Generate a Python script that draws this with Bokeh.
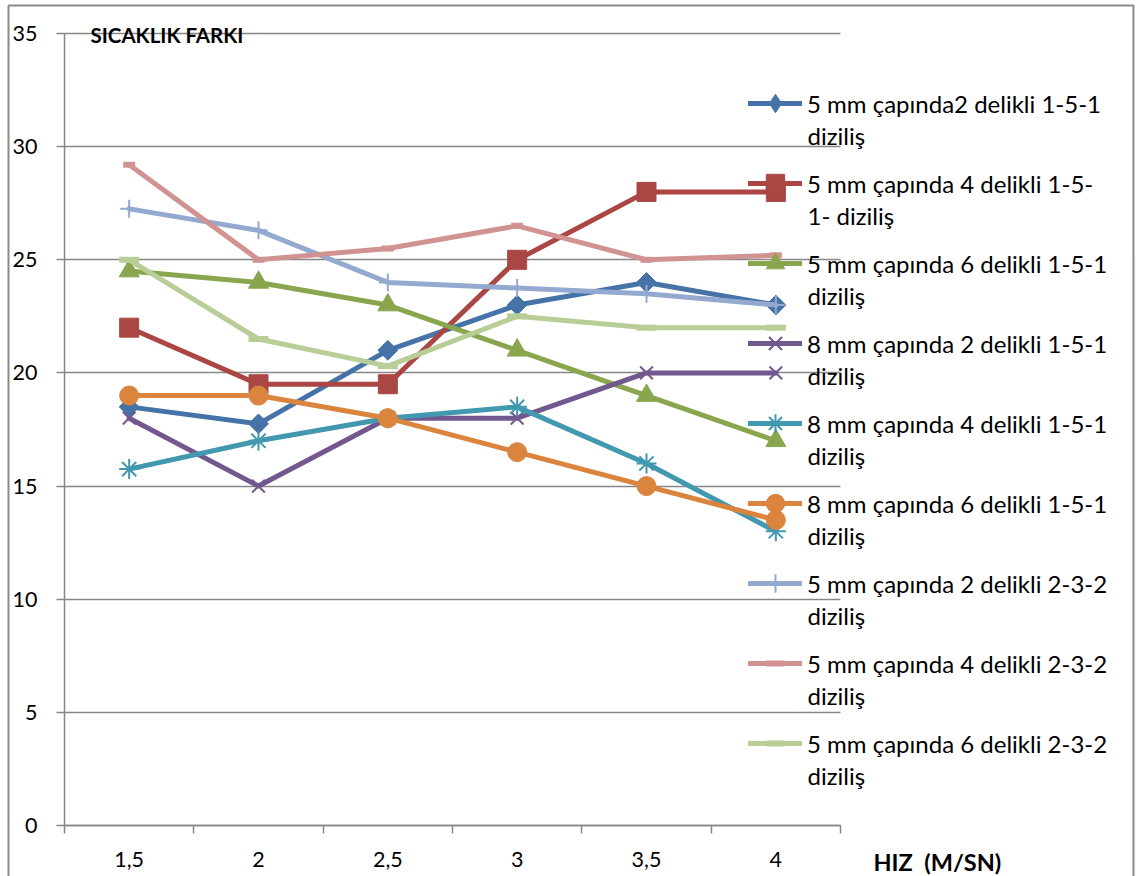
from bokeh.plotting import figure
from bokeh.models import Range1d, FixedTicker, Legend, LegendItem, Label, BoxAnnotation
from bokeh.embed import file_html
from bokeh.resources import INLINE

# ---- data -------------------------------------------------------------
speeds = ["1,5", "2", "2,5", "3", "3,5", "4"]          # HIZ (M/SN)
y_ticks = [0, 5, 10, 15, 20, 25, 30, 35]

s_5mm_2h_151 = [18.5, 17.75, 21.0, 23.0, 24.0, 23.0]
s_5mm_4h_151 = [22.0, 19.5, 19.5, 25.0, 28.0, 28.0]
s_5mm_6h_151 = [24.5, 24.0, 23.0, 21.0, 19.0, 17.0]
s_8mm_2h_151 = [18.0, 15.0, 18.0, 18.0, 20.0, 20.0]
s_8mm_4h_151 = [15.75, 17.0, 18.0, 18.5, 16.0, 13.0]
s_8mm_6h_151 = [19.0, 19.0, 18.0, 16.5, 15.0, 13.5]
s_5mm_2h_232 = [27.25, 26.3, 24.0, 23.75, 23.5, 23.0]
s_5mm_4h_232 = [29.2, 25.0, 25.5, 26.5, 25.0, 25.2]
s_5mm_6h_232 = [25.0, 21.5, 20.3, 22.5, 22.0, 22.0]

series = [s_5mm_2h_151, s_5mm_4h_151, s_5mm_6h_151,
          s_8mm_2h_151, s_8mm_4h_151, s_8mm_6h_151,
          s_5mm_2h_232, s_5mm_4h_232, s_5mm_6h_232]

legend_lines = [
    ("5 mm çapında2 delikli 1-5-1", "diziliş"),
    ("5 mm çapında 4 delikli 1-5-", "1- diziliş"),
    ("5 mm çapında 6 delikli 1-5-1", "diziliş"),
    ("8 mm çapında 2 delikli 1-5-1", "diziliş"),
    ("8 mm çapında 4 delikli 1-5-1", "diziliş"),
    ("8 mm çapında 6 delikli 1-5-1", "diziliş"),
    ("5 mm çapında 2 delikli 2-3-2", "diziliş"),
    ("5 mm çapında 4 delikli 2-3-2", "diziliş"),
    ("5 mm çapında 6 delikli 2-3-2", "diziliş"),
]

# ---- styles -----------------------------------------------------------
colors = ["#4572A7", "#AA4643", "#89A54E", "#71588F", "#4198AF",
          "#DB843D", "#93A9CF", "#D19392", "#B9CD96"]
# (marker, size, angle, outline width, legend marker)
markers = [("square", 14, 0.785398, 1, "diamond"),
           ("square", 19, 0.0, 1, None),
           ("triangle", 20, 0.0, 1, None),
           ("x", 18, 0.0, 2, None),
           ("asterisk", 20, 0.0, 2, None),
           ("circle", 19, 0.0, 1, None),
           ("cross", 18, 0.0, 2, None),
           ("dash", 12, 0.0, 6, None),
           ("dash", 20, 0.0, 6, None)]

FONT = "Lato"
FS_TICK = "21.5px"
FS_LEG = "24px"
FS_TITLE = "20.5px"
FS_XLAB = "23.5px"
GRID = "#878787"

# canvas and plot-area geometry (pixels)
W, H = 1138, 876
PA_L, PA_R, PA_T, PA_B = 64, 840, 33, 825

n_cat = len(speeds)
xs = [i + 0.5 for i in range(n_cat)]
y0, y1 = y_ticks[0], y_ticks[-1]

# the frame fills the canvas; the plot area is [0, n_cat] x [y0, y1]
kx = n_cat / (PA_R - PA_L)
ky = (y1 - y0) / (PA_B - PA_T)
x_range = Range1d(-PA_L * kx, n_cat + (W - PA_R) * kx)
y_range = Range1d(y0 - (H - PA_B) * ky, y1 + PA_T * ky)

p = figure(width=W, height=H, output_backend="svg", toolbar_location=None,
           x_range=x_range, y_range=y_range, min_border=0)
p.title.visible = False
p.outline_line_color = None
p.background_fill_color = "white"
p.border_fill_color = "white"

# grid
p.xgrid.visible = False
p.ygrid.ticker = FixedTicker(ticks=y_ticks)
p.ygrid.bounds = (y0 - 1, y1 + 1)
p.ygrid.cross_bounds = (0, n_cat)
p.ygrid.grid_line_color = GRID
p.ygrid.grid_line_width = 1.5

# y axis
p.yaxis.fixed_location = 0
p.yaxis.bounds = (y0, y1)
p.yaxis.ticker = FixedTicker(ticks=y_ticks)
p.yaxis.axis_line_color = GRID
p.yaxis.axis_line_width = 1.5
p.yaxis.major_tick_line_color = GRID
p.yaxis.major_tick_line_width = 1.5
p.yaxis.major_tick_out = 8
p.yaxis.major_tick_in = 0
p.yaxis.minor_tick_line_color = None
p.yaxis.major_label_standoff = 19
p.yaxis.major_label_text_font = FONT
p.yaxis.major_label_text_font_size = FS_TICK
p.yaxis.major_label_text_color = "black"

# x axis: labels at category centres, tick marks at category boundaries
p.xaxis.fixed_location = y0
p.xaxis.bounds = (0, n_cat)
p.xaxis.ticker = FixedTicker(ticks=xs, minor_ticks=list(range(n_cat + 1)))
p.xaxis.major_label_overrides = {x: s for x, s in zip(xs, speeds)}
p.xaxis.axis_line_color = GRID
p.xaxis.axis_line_width = 1.5
p.xaxis.major_tick_line_color = None
p.xaxis.major_tick_out = 0
p.xaxis.major_tick_in = 0
p.xaxis.minor_tick_line_color = GRID
p.xaxis.minor_tick_line_width = 1.5
p.xaxis.minor_tick_out = 8
p.xaxis.minor_tick_in = 0
p.xaxis.major_label_standoff = 18
p.xaxis.major_label_text_font = FONT
p.xaxis.major_label_text_font_size = FS_TICK
p.xaxis.major_label_text_color = "black"

# series
items = []
for vals, col, (mk, sz, ang, lw, leg_mk), (l1, _) in zip(series, colors, markers, legend_lines):
    lr = p.line(xs, vals, line_color=col, line_width=5,
                line_join="round", line_cap="round")
    mr = p.scatter(xs, vals, marker=mk, size=sz, angle=ang,
                   fill_color=col, line_color=col, line_width=lw)
    if leg_mk is not None:
        # legend swatch only (a single undefined point, nothing is plotted)
        mr = p.scatter([xs[0]], [float("nan")], marker=leg_mk,
                       fill_color=col, line_color=col, line_width=lw)
    items.append(LegendItem(label=l1, renderers=[lr, mr]))

# legend
GLYPH_W, GLYPH_H, SPACING = 54, 46, 34
LEG_X, LEG_TOP, LINE_GAP = 748, 80, 32
n = len(items)
leg_h = n * GLYPH_H + (n - 1) * SPACING
legend = Legend(items=items, location=(LEG_X, H - LEG_TOP - leg_h),
                orientation="vertical", glyph_width=GLYPH_W, glyph_height=GLYPH_H,
                spacing=SPACING, padding=0, margin=0, label_standoff=5,
                label_text_font=FONT, label_text_font_size=FS_LEG,
                label_text_color="black", label_height=GLYPH_H,
                border_line_color=None, background_fill_alpha=0)
p.add_layout(legend)

# wrapped second line of each legend entry
for i, (_, l2) in enumerate(legend_lines):
    cy = LEG_TOP + i * (GLYPH_H + SPACING) + GLYPH_H / 2 + LINE_GAP
    p.add_layout(Label(x=LEG_X + GLYPH_W + 5, y=H - cy,
                       x_units="screen", y_units="screen", text=l2,
                       text_baseline="middle", text_align="left",
                       text_font=FONT, text_font_size=FS_LEG, text_color="black"))

# titles
p.add_layout(Label(x=90, y=H - 34.5, x_units="screen", y_units="screen",
                   text="SICAKLIK FARKI", text_baseline="alphabetic",
                   text_font=FONT, text_font_size=FS_TITLE, text_font_style="bold",
                   text_color="black"))
p.add_layout(Label(x=873, y=H - 861.5, x_units="screen", y_units="screen",
                   text="HIZ \u00a0(M/SN)", text_baseline="alphabetic",
                   text_font=FONT, text_font_size=FS_XLAB, text_font_style="bold",
                   text_color="black"))

# chart area border
p.add_layout(BoxAnnotation(left=8, right=1133, top=H - 5, bottom=-20,
                           left_units="screen", right_units="screen",
                           top_units="screen", bottom_units="screen",
                           fill_alpha=0, line_color="#8a8a8a", line_alpha=1.0,
                           line_width=2))

open("out.html", "w").write(file_html(p, INLINE))
